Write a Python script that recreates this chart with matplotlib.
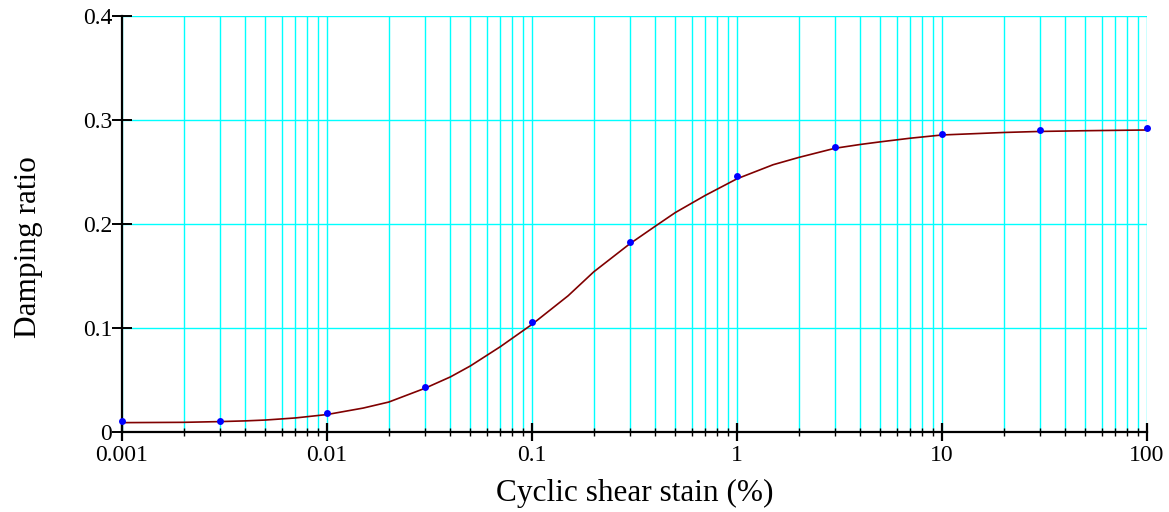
import matplotlib
matplotlib.use("Agg")
import matplotlib.pyplot as plt
from matplotlib.ticker import LogLocator, NullFormatter, FixedLocator

plt.rcParams['font.family'] = ['Liberation Serif', 'DejaVu Serif']

# measured damping ratio at each strain level
strain_pts = [0.001, 0.003, 0.01, 0.03, 0.1, 0.3, 1, 3, 10, 30, 100]
damping_pts = [0.0109, 0.0109, 0.0186, 0.043, 0.106, 0.1824, 0.246, 0.2743, 0.287, 0.2907, 0.292]

# fitted curve
strain_fit = [0.001, 0.002, 0.003, 0.004, 0.005, 0.007, 0.01, 0.015, 0.02, 0.03, 0.04, 0.05,
              0.07, 0.1, 0.15, 0.2, 0.3, 0.4, 0.5, 0.7, 1, 1.5, 2, 3, 4, 5, 7, 10, 20, 30,
              50, 100]
damping_fit = [0.0090, 0.0093, 0.0100, 0.0107, 0.0115, 0.0135, 0.0168, 0.0230, 0.0288,
               0.0420, 0.0530, 0.0635, 0.0820, 0.1035, 0.1310, 0.1540, 0.1810, 0.1980,
               0.2110, 0.2275, 0.2435, 0.2570, 0.2640, 0.2728, 0.2765, 0.2790, 0.2825,
               0.2856, 0.2880, 0.2890, 0.2897, 0.2904]

x_ticks = [0.001, 0.01, 0.1, 1, 10, 100]
x_tick_labels = ['0.001', '0.01', '0.1', '1', '10', '100']
y_ticks = [0, 0.1, 0.2, 0.3, 0.4]
y_tick_labels = ['0', '0.1', '0.2', '0.3', '0.4']

fig = plt.figure(figsize=(11.69, 5.12), dpi=100)
ax = fig.add_axes([0.1044, 0.15625, 0.8768, 0.8125])

ax.set_xscale('log')
ax.set_xlim(0.001, 100)
ax.set_ylim(0, 0.4)

ax.xaxis.set_major_locator(FixedLocator(x_ticks))
ax.xaxis.set_minor_locator(LogLocator(base=10, subs=range(2, 10), numticks=20))
ax.xaxis.set_minor_formatter(NullFormatter())
ax.set_xticklabels(x_tick_labels)
ax.set_yticks(y_ticks)
ax.set_yticklabels(y_tick_labels)

ax.grid(True, which='both', axis='x', color='#00ffff', linewidth=1.0)
ax.grid(True, which='major', axis='y', color='#00ffff', linewidth=1.0)
ax.set_axisbelow(True)

ax.plot(strain_fit, damping_fit, color='#800000', linewidth=1.2, zorder=3)
ax.plot(strain_pts, damping_pts, 'o', color='#0000ff', markersize=5,
        markeredgewidth=0, zorder=4, clip_on=False)

for side in ['top', 'right']:
    ax.spines[side].set_visible(False)
for side in ['left', 'bottom']:
    ax.spines[side].set_linewidth(1.6)
    ax.spines[side].set_color('black')

ax.tick_params(axis='y', which='major', direction='inout', length=14.4, width=1.4,
               pad=0, labelsize=17)
ax.tick_params(axis='x', which='major', direction='inout', length=13, width=1.6,
               pad=3, labelsize=17)
ax.tick_params(axis='x', which='minor', direction='inout', length=6, width=1.0)

ax.set_xlabel('Cyclic shear stain (%)', fontsize=22.5, va='center')
ax.set_ylabel('Damping ratio', fontsize=22.5, va='center')
ax.xaxis.set_label_coords(0.5, -0.1466)
ax.yaxis.set_label_coords(-0.0917, 0.445)

fig.savefig('out.png', dpi=100)
